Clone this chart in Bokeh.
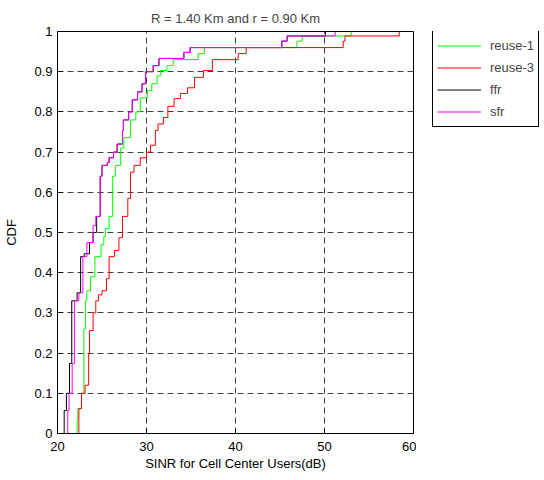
from bokeh.plotting import figure
from bokeh.models import Legend, LegendItem, FixedTicker, Range1d
from bokeh.layouts import row
from bokeh.embed import file_html
from bokeh.resources import INLINE

# ---- data ----
reuse1_x = [22.2, 22.2, 22.3, 22.7, 22.96, 23.15, 23.3, 23.7, 24.2, 24.9,
            25.2, 25.4, 25.8, 26.2, 26.5, 27.1, 27.45, 28.2, 28.8, 29.3,
            30.1, 30.6, 31.2, 31.6, 32.3, 33.0, 35.8, 36.5, 46.9, 47.5, 53.0]
reuse1_y = [0, 0.032, 0.062, 0.10, 0.26, 0.33, 0.355, 0.39, 0.44, 0.47,
            0.49, 0.51, 0.54, 0.64, 0.667, 0.71, 0.736, 0.78, 0.80, 0.835,
            0.853, 0.87, 0.89, 0.903, 0.915, 0.93, 0.945, 0.96, 0.976, 0.989, 1.0]

reuse3_x = [22.4, 22.4, 22.7, 23.1, 23.5, 23.6, 24.0, 24.3, 24.6, 25.0,
            25.5, 25.8, 26.4, 26.9, 27.3, 27.9, 28.2, 28.6, 29.3, 30.0,
            30.45, 31.0, 31.3, 31.9, 32.4, 33.1, 33.8, 34.6, 35.4, 36.4,
            37.4, 40.3, 41.2, 52.1, 52.3, 58.4]
reuse3_y = [0, 0.062, 0.10, 0.12, 0.20, 0.256, 0.30, 0.33, 0.345, 0.355,
            0.385, 0.44, 0.455, 0.487, 0.54, 0.585, 0.65, 0.667, 0.686, 0.70,
            0.717, 0.754, 0.77, 0.786, 0.814, 0.833, 0.846, 0.86, 0.886, 0.903,
            0.93, 0.945, 0.96, 0.976, 0.989, 1.0]

ffr_x = [20.75, 20.75, 21.0, 21.35, 21.6, 22.2, 22.6, 23.0, 23.6, 24.0,
         24.4, 24.8, 25.0, 25.6, 25.8, 26.3, 26.7, 27.3, 27.4, 28.0,
         28.4, 29.0, 29.5, 29.9, 30.75, 31.4, 34.2, 34.9, 45.2, 45.8, 50.1]
ffr_y = [0, 0.057, 0.10, 0.174, 0.33, 0.35, 0.44, 0.447, 0.475, 0.50,
         0.54, 0.64, 0.667, 0.674, 0.686, 0.70, 0.72, 0.754, 0.78, 0.80,
         0.83, 0.85, 0.87, 0.90, 0.915, 0.933, 0.948, 0.96, 0.976, 0.989, 1.0]

sfr_x = [21.15, 21.15, 21.3, 21.65, 21.9, 22.4, 22.85, 23.3, 24.0, 24.3,
         24.8, 25.0, 25.6, 25.8, 26.3, 26.7, 27.3, 27.4, 28.0, 28.4,
         29.0, 29.5, 29.9, 30.75, 31.4, 34.2, 34.9, 45.2, 45.8, 51.2]
sfr_y = [0, 0.057, 0.10, 0.174, 0.33, 0.35, 0.44, 0.475, 0.517, 0.54,
         0.64, 0.667, 0.674, 0.686, 0.70, 0.72, 0.754, 0.78, 0.80, 0.83,
         0.85, 0.87, 0.90, 0.915, 0.933, 0.948, 0.96, 0.976, 0.989, 1.0]

x_ticks = [20, 30, 40, 50, 60]
y_ticks = [0, 0.1, 0.2, 0.3, 0.4, 0.5, 0.6, 0.7, 0.8, 0.9, 1.0]
y_tick_labels = ["0", "0.1", "0.2", "0.3", "0.4", "0.5", "0.6", "0.7", "0.8", "0.9", "1"]

series_names = ["reuse-1", "reuse-3", "ffr", "sfr"]
series_colors = ["#00ff00", "#ff0000", "#000000", "#ff00ff"]
series_data = [(reuse1_x, reuse1_y), (reuse3_x, reuse3_y), (ffr_x, ffr_y), (sfr_x, sfr_y)]

FONT = "Liberation Sans"

p = figure(width=416, height=480, output_backend="svg", toolbar_location=None,
           x_range=Range1d(20, 60), y_range=Range1d(0, 1),
           min_border_left=57, min_border_right=3, min_border_top=31,
           min_border_bottom=47)

p.title.text = "R = 1.40 Km and r = 0.90 Km"
p.title.align = "center"
p.title.text_font = FONT
p.title.text_font_size = "13px"
p.title.text_font_style = "normal"
p.title.standoff = 12

p.outline_line_color = "black"
p.outline_line_alpha = 1.0
p.outline_line_width = 1

p.xaxis.ticker = FixedTicker(ticks=x_ticks)
p.yaxis.ticker = FixedTicker(ticks=y_ticks)
p.yaxis.major_label_overrides = {t: l for t, l in zip(y_ticks, y_tick_labels)}
p.xaxis.axis_label = "SINR for Cell Center Users(dB)"
p.yaxis.axis_label = "CDF"
for ax in (p.xaxis, p.yaxis):
    ax.major_tick_in = 5
    ax.major_tick_out = 0
    ax.minor_tick_line_color = None
    ax.axis_line_color = "black"
    ax.major_tick_line_color = "black"
    ax.major_label_text_font = FONT
    ax.major_label_text_font_size = "13px"
    ax.major_label_text_color = "black"
    ax.axis_label_text_font = FONT
    ax.axis_label_text_font_size = "13px"
    ax.axis_label_text_font_style = "normal"
    ax.axis_label_text_color = "black"
p.xaxis.major_label_standoff = 8
p.xaxis.axis_label_standoff = 2
p.yaxis.major_label_standoff = 5
p.yaxis.axis_label_standoff = 12

for g in (p.xgrid, p.ygrid):
    g.grid_line_color = "black"
    g.grid_line_alpha = 0.75
    g.grid_line_dash = "6 4"
    g.grid_line_width = 1

for (xs, ys), c in zip(series_data, series_colors):
    p.step(xs, ys, mode="after", line_color=c, line_width=1)

# legend panel (second figure: same series, ranges chosen so only the legend shows)
p2 = figure(width=128, height=480, output_backend="svg", toolbar_location=None,
            x_range=Range1d(-10, -9), y_range=Range1d(-10, -9),
            x_axis_type=None, y_axis_type=None,
            min_border_left=0, min_border_right=0, min_border_top=0, min_border_bottom=0)
p2.outline_line_color = None
p2.xgrid.visible = False
p2.ygrid.visible = False
leg_renderers = []
for (xs, ys), c in zip(series_data, series_colors):
    leg_renderers.append(p2.step(xs, ys, mode="after", line_color=c, line_width=1))

legend = Legend(items=[LegendItem(label=n, renderers=[r]) for n, r in zip(series_names, leg_renderers)],
                location=(16, 306))
legend.border_line_color = "black"
legend.border_line_alpha = 1.0
legend.background_fill_color = "white"
legend.background_fill_alpha = 1.0
legend.label_text_font = FONT
legend.label_text_font_size = "13px"
legend.glyph_width = 44
legend.glyph_height = 21
legend.label_height = 21
legend.label_standoff = 9
legend.spacing = 1
legend.padding = 4
legend.margin = 0
p2.add_layout(legend, "center")

layout = row(p, p2)
open("out.html", "w").write(file_html(layout, INLINE))
